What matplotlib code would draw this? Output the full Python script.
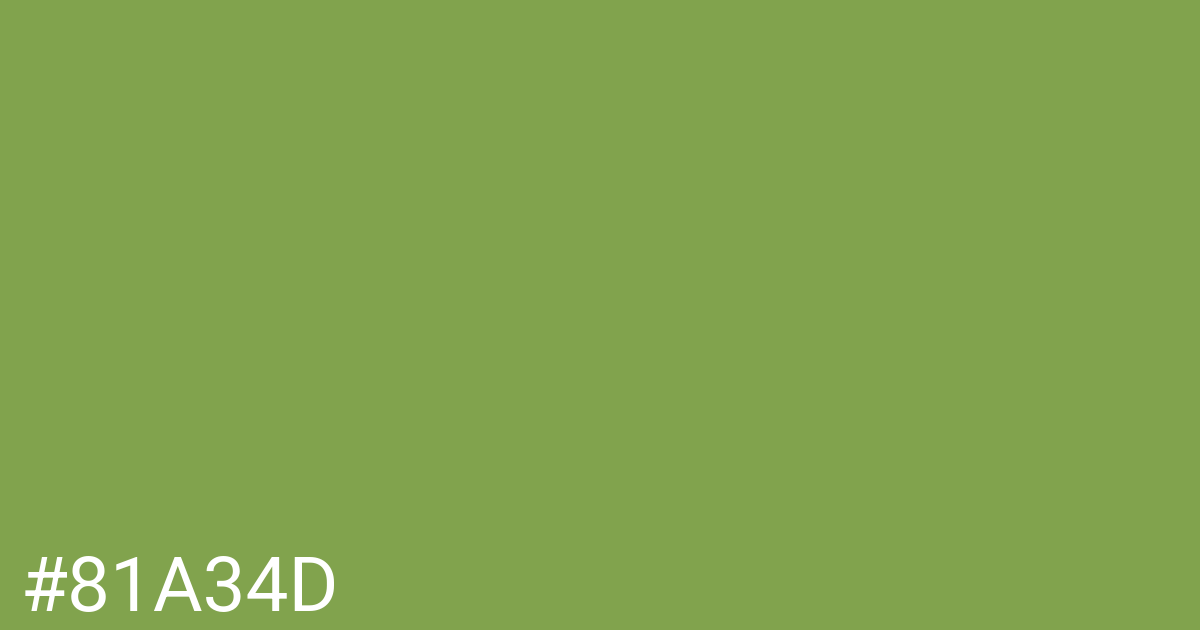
import matplotlib
matplotlib.use("Agg")
import matplotlib.pyplot as plt

# colour swatch: one hex value, shown as background and as a label
hex_code = "#81A34D"
label_text = [hex_code]

fig = plt.figure(figsize=(12, 6.3), dpi=100)
fig.patch.set_facecolor(hex_code)

# label in the bottom-left corner, white Roboto
fig.text(21 / 1200, 1 - 611 / 630, label_text[0], color="white",
         fontsize=55, family="Roboto", ha="left", va="baseline")

fig.savefig("out.png", dpi=100, facecolor=fig.get_facecolor())
